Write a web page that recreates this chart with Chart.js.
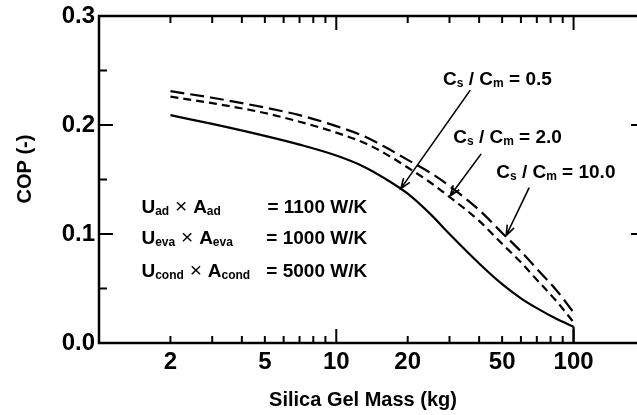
<!DOCTYPE html>
<html>
<head>
<meta charset="utf-8">
<script src="https://cdn.jsdelivr.net/npm/chart.js@4"></script>
<style>
  html, body { margin: 0; padding: 0; overflow: hidden; background: #fff; }
</style>
</head>
<body>
<canvas id="chart" width="650" height="415"></canvas>
<script>
// silica gel mass (kg) and COP for each Cs/Cm ratio
const masses = [2, 3, 5, 7, 10, 13, 16, 20, 25, 30, 40, 50, 60, 70, 85, 100];
const copRatio05 = [0.209, 0.201, 0.190, 0.182, 0.172, 0.162, 0.151, 0.137, 0.118, 0.100, 0.073, 0.054, 0.041, 0.032, 0.022, 0.015];
const copRatio2 = [0.226, 0.220, 0.211, 0.203, 0.193, 0.184, 0.174, 0.161, 0.147, 0.134, 0.112, 0.091, 0.074, 0.058, 0.038, 0.019];
const copRatio10 = [0.231, 0.225, 0.216, 0.209, 0.199, 0.190, 0.180, 0.168, 0.156, 0.144, 0.122, 0.101, 0.084, 0.068, 0.048, 0.028];
// the solid curve drops straight to the axis at 100 kg
const dropMasses = [100, 100];
const dropCops = [0.015, 0];

const xTickLabels = [2, 5, 10, 20, 50, 100];
const xMinorTicks = [2, 3, 4, 5, 6, 7, 8, 9, 20, 30, 40, 50, 60, 70, 80, 90, 200];
const xMajorTicks = [10, 100];
const yTicks = [0, 0.1, 0.2, 0.3];
const yMinorTicks = [0.05, 0.15, 0.25];

const FONT = '"Liberation Sans", Arial, Helvetica, sans-serif';

const toPoints = (xs, ys) => xs.map((m, i) => ({ x: m, y: ys[i] }));

// annotations, placed in data coordinates (mass, COP)
const ratioLabels = [
  { mass: 28.2, cop: 0.243, value: '0.5' },
  { mass: 31.1, cop: 0.190, value: '2.0' },
  { mass: 47.2, cop: 0.158, value: '10.0' }
];
const arrows = [
  { from: [36.7, 0.232], to: [18.7, 0.1416] },
  { from: [40.8, 0.1735], to: [30.2, 0.135] },
  { from: [65, 0.1425], to: [52, 0.0986] }
];
const paramLines = [
  { sub: 'ad', value: '= 1100 W/K', cop: 0.126 },
  { sub: 'eva', value: '= 1000 W/K', cop: 0.0968 },
  { sub: 'cond', value: '= 5000 W/K', cop: 0.0667 }
];
const paramLeftMass = 1.51;
const paramRightMass = 13.5;

function drawRich(ctx, runs, x, y, align) {
  const mainFont = 'bold 19px ' + FONT;
  const subFont = 'bold 12px ' + FONT;
  const timesFont = '21px ' + FONT;
  let w = 0;
  runs.forEach(r => {
    ctx.font = r.sub ? subFont : (r.times ? timesFont : mainFont);
    w += ctx.measureText(r.t).width;
  });
  let cx = align === 'right' ? x - w : x;
  ctx.textBaseline = 'alphabetic';
  ctx.textAlign = 'left';
  runs.forEach(r => {
    ctx.font = r.sub ? subFont : (r.times ? timesFont : mainFont);
    ctx.fillText(r.t, cx, y + 7 + (r.sub ? 2 : 0));
    cx += ctx.measureText(r.t).width;
  });
}

const framePlugin = {
  id: 'frame',
  afterDraw(chart) {
    const { ctx, chartArea: a, scales: { x, y } } = chart;
    ctx.save();
    ctx.strokeStyle = '#000';
    ctx.fillStyle = '#000';
    ctx.lineWidth = 2.5;
    ctx.strokeRect(a.left, a.top, a.right - a.left, a.bottom - a.top);

    // inward ticks
    ctx.lineWidth = 2;
    ctx.beginPath();
    const xTick = (v, len) => {
      const px = x.getPixelForValue(v);
      ctx.moveTo(px, a.bottom); ctx.lineTo(px, a.bottom - len);
      ctx.moveTo(px, a.top); ctx.lineTo(px, a.top + len);
    };
    xMinorTicks.forEach(v => xTick(v, 7));
    xMajorTicks.forEach(v => xTick(v, 14));
    const yTick = (v, len) => {
      const py = y.getPixelForValue(v);
      ctx.moveTo(a.left, py); ctx.lineTo(a.left + len, py);
      ctx.moveTo(a.right, py); ctx.lineTo(a.right - len, py);
    };
    yMinorTicks.forEach(v => yTick(v, 8));
    yTicks.forEach(v => yTick(v, 14));
    ctx.stroke();

    // axis titles
    ctx.font = 'bold 20px ' + FONT;
    ctx.textAlign = 'center';
    ctx.textBaseline = 'middle';
    ctx.fillText('Silica Gel Mass (kg)', 363, 400);
    ctx.save();
    ctx.translate(25, 169);
    ctx.rotate(-Math.PI / 2);
    ctx.fillText('COP (-)', 0, 0);
    ctx.restore();

    // Cs / Cm labels
    ratioLabels.forEach(l => {
      drawRich(ctx, [
        { t: 'C' }, { t: 's', sub: true }, { t: ' / C' }, { t: 'm', sub: true }, { t: ' = ' + l.value }
      ], x.getPixelForValue(l.mass), y.getPixelForValue(l.cop), 'left');
    });

    // arrows
    ctx.lineWidth = 1.6;
    arrows.forEach(ar => {
      const x0 = x.getPixelForValue(ar.from[0]), y0 = y.getPixelForValue(ar.from[1]);
      const x1 = x.getPixelForValue(ar.to[0]), y1 = y.getPixelForValue(ar.to[1]);
      const ang = Math.atan2(y1 - y0, x1 - x0);
      ctx.beginPath();
      ctx.moveTo(x0, y0); ctx.lineTo(x1, y1);
      ctx.moveTo(x1 - 11 * Math.cos(ang - 0.35), y1 - 11 * Math.sin(ang - 0.35));
      ctx.lineTo(x1, y1);
      ctx.lineTo(x1 - 11 * Math.cos(ang + 0.35), y1 - 11 * Math.sin(ang + 0.35));
      ctx.stroke();
    });

    // heat transfer parameters
    const lx = x.getPixelForValue(paramLeftMass);
    const rx = x.getPixelForValue(paramRightMass);
    paramLines.forEach(p => {
      const py = y.getPixelForValue(p.cop);
      drawRich(ctx, [
        { t: 'U' }, { t: p.sub, sub: true }, { t: ' × ', times: true }, { t: 'A' }, { t: p.sub, sub: true }
      ], lx, py, 'left');
      drawRich(ctx, [{ t: p.value }], rx, py, 'right');
    });
    ctx.restore();
  }
};

new Chart(document.getElementById('chart'), {
  type: 'line',
  data: {
    datasets: [
      { data: toPoints(masses, copRatio05), borderColor: '#000', borderWidth: 2.2, cubicInterpolationMode: 'monotone' },
      { data: toPoints(dropMasses, dropCops), borderColor: '#000', borderWidth: 2.2 },
      { data: toPoints(masses, copRatio2), borderColor: '#000', borderWidth: 2.2, borderDash: [8, 5], cubicInterpolationMode: 'monotone' },
      { data: toPoints(masses, copRatio10), borderColor: '#000', borderWidth: 2.2, borderDash: [14, 6], cubicInterpolationMode: 'monotone' }
    ]
  },
  options: {
    responsive: false,
    animation: false,
    layout: { padding: { top: 14, right: 5, left: 0, bottom: 0 } },
    plugins: { legend: { display: false }, tooltip: { enabled: false } },
    elements: { point: { radius: 0 } },
    scales: {
      x: {
        type: 'logarithmic',
        min: 1,
        max: 200,
        grid: { display: false, drawTicks: false },
        border: { display: false },
        afterBuildTicks: s => { s.ticks = xTickLabels.map(v => ({ value: v })); },
        afterFit: s => { s.height = 72; },
        ticks: {
          autoSkip: false, maxRotation: 0, padding: 7, color: '#000',
          font: { family: FONT, size: 24, weight: 'bold', lineHeight: 1 },
          callback: v => String(v)
        }
      },
      y: {
        min: 0,
        max: 0.3,
        grid: { display: false, drawTicks: false },
        border: { display: false },
        afterBuildTicks: s => { s.ticks = yTicks.map(v => ({ value: v })); },
        afterFit: s => { s.width = 99; },
        ticks: {
          padding: 4, color: '#000',
          font: { family: FONT, size: 24, weight: 'bold', lineHeight: 1 },
          callback: v => v.toFixed(1)
        }
      }
    }
  },
  plugins: [framePlugin]
});
</script>
</body>
</html>
